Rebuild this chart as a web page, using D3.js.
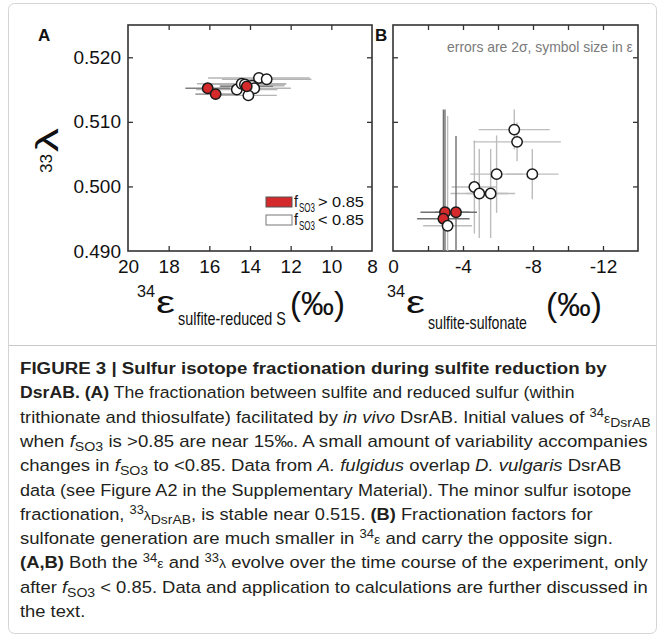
<!DOCTYPE html>
<html>
<head>
<meta charset="utf-8">
<script src="https://cdn.jsdelivr.net/npm/d3@7"></script>
<style>
  body { margin: 0; background: #fff; }
  svg { display: block; }
  text { font-family: "Liberation Sans", Arial, sans-serif; }
</style>
</head>
<body>
<div id="vis"></div>
<script>
var width = 665;
var height = 637;

// ---- data ----
// panel A: 34eps (sulfite - reduced S) vs 33lambda
const aRedEps = [16.08, 15.69, 14.16];
const aRedLam = [0.5152, 0.5143, 0.5155];
const aRedErrX = [1.1, 1.0, 1.3];
const aRedErrY = [0.0003, 0.0003, 0.0003];
const aWhiteEps = [14.65, 14.41, 14.25, 13.9, 13.79, 14.08, 13.56, 13.18];
const aWhiteLam = [0.5150, 0.5159, 0.5158, 0.5156, 0.5152, 0.5141, 0.5168, 0.5166];
const aWhiteErrX = [2.0, 2.2, 2.0, 1.6, 1.8, 1.4, 2.5, 2.2];
const aWhiteErrY = [0.0003, 0.0003, 0.0003, 0.0003, 0.0003, 0.0003, 0.0003, 0.0003];

// panel B: 34eps (sulfite - sulfonate) vs 33lambda
const bRedEps = [-2.97, -3.6, -2.88];
const bRedLam = [0.4960, 0.4960, 0.4950];
const bRedErrX = [1.4, 1.2, 1.5];
const bRedErrY = [0.0159, 0.0118, 0.0169];
const bWhiteEps = [-6.93, -7.09, -5.92, -7.96, -4.65, -4.93, -5.58, -3.12];
const bWhiteLam = [0.5088, 0.5069, 0.5019, 0.5019, 0.4999, 0.4989, 0.4989, 0.4939];
const bWhiteErrX = [2.03, 2.5, 1.5, 1.5, 1.3, 1.64, 1.4, 1.4];
const bWhiteErrY = [0.0031, 0.0030, 0.0060, 0.0039, 0.0072, 0.0069, 0.0069, 0.0170];

const xTicksA = [20, 18, 16, 14, 12, 10, 8];
const xMinorA = [18, 16, 14, 12, 10];
const xTicksB = [0, -4, -8, -12];
const xMinorB = [-2, -4, -6, -8, -10, -12];
const yTicks = [0.490, 0.500, 0.510, 0.520];
const yMinor = [0.500, 0.510, 0.520];

const RED = "#d42a2b";

var svg = d3.select("#vis").append("svg").attr("width", width).attr("height", height);

// page frame + separator
svg.append("rect").attr("x", 8.5).attr("y", 3.5).attr("width", 648).attr("height", 630)
  .attr("rx", 6).attr("fill", "none").attr("stroke", "#d4d4d4");
svg.append("line").attr("x1", 9).attr("x2", 656).attr("y1", 345.5).attr("y2", 345.5)
  .attr("stroke", "#c8c8c8");

var y = d3.scaleLinear().domain([0.490, 0.525]).range([251, 25]);
var xA = d3.scaleLinear().domain([20, 8]).range([128, 372]);
var xB = d3.scaleLinear().domain([0, -14]).range([393, 638]);

// text helper: squeezes to a given width with a transform, so boxes stay honest
function txt(g, x, yy, s, size, o) {
  o = o || {};
  var t = g.append("text").attr("x", 0).attr("y", 0).attr("font-size", size)
    .attr("fill", o.fill || "#111").text(s);
  if (o.weight) t.attr("font-weight", o.weight);
  var tr = "translate(" + x + "," + yy + ")";
  if (o.rotate) tr += " rotate(" + o.rotate + ")";
  if (o.width) {
    var w = t.node().getComputedTextLength();
    tr += " scale(" + (o.width / w) + ",1)";
  }
  t.attr("transform", tr);
  return t;
}

function panel(x, xLabels, xMinor, name) {
  var g = svg.append("g");
  var x0 = x.range()[0], x1 = x.range()[1];
  var clipId = "clip" + name;
  svg.append("clipPath").attr("id", clipId).append("rect")
    .attr("x", x0).attr("y", y.range()[1]).attr("width", x1 - x0).attr("height", y.range()[0] - y.range()[1]);

  // inward ticks on all four sides
  var tk = g.append("g").attr("class", "ticks");
  tk.append("g").attr("transform", "translate(0," + y.range()[0] + ")")
    .call(d3.axisBottom(x).tickValues(xMinor).tickSize(-5).tickFormat(""));
  tk.append("g").attr("transform", "translate(0," + y.range()[1] + ")")
    .call(d3.axisTop(x).tickValues(xMinor).tickSize(-5).tickFormat(""));
  tk.append("g").attr("transform", "translate(" + x0 + ",0)")
    .call(d3.axisLeft(y).tickValues(yMinor).tickSize(-5).tickFormat(""));
  tk.append("g").attr("transform", "translate(" + x1 + ",0)")
    .call(d3.axisRight(y).tickValues(yMinor).tickSize(-5).tickFormat(""));
  tk.selectAll(".domain").remove();
  tk.selectAll("text").remove();
  tk.selectAll("line").attr("stroke", "#333").attr("stroke-width", 1.3);

  // x tick labels
  var xl = g.append("g").attr("transform", "translate(0," + y.range()[0] + ")")
    .call(d3.axisBottom(x).tickValues(xLabels).tickSize(0).tickPadding(9).tickFormat(function (d) { return String(d); }));
  xl.select(".domain").remove();
  xl.selectAll("text").attr("font-size", 19).attr("fill", "#111").attr("font-family", null);

  // box
  g.append("rect").attr("x", x0).attr("y", y.range()[1]).attr("width", x1 - x0)
    .attr("height", y.range()[0] - y.range()[1]).attr("fill", "none")
    .attr("stroke", "#333").attr("stroke-width", 1.6);

  return { g: g, clip: "url(#" + clipId + ")" };
}

function points(p, x, xs, ys, ex, ey, errColor) {
  var data = xs.map(function (v, i) { return { x: v, y: ys[i], ex: ex[i], ey: ey[i] }; });
  var eg = p.g.append("g").attr("clip-path", p.clip);
  eg.selectAll(".eh").data(data).enter().append("line")
    .attr("x1", function (d) { return x(d.x - d.ex); })
    .attr("x2", function (d) { return x(d.x + d.ex); })
    .attr("y1", function (d) { return y(d.y); })
    .attr("y2", function (d) { return y(d.y); })
    .attr("stroke", errColor).attr("stroke-width", 1.4);
  eg.selectAll(".ev").data(data).enter().append("line")
    .attr("x1", function (d) { return x(d.x); })
    .attr("x2", function (d) { return x(d.x); })
    .attr("y1", function (d) { return y(d.y - d.ey); })
    .attr("y2", function (d) { return y(d.y + d.ey); })
    .attr("stroke", errColor).attr("stroke-width", 1.4);
  return data;
}

function dots(p, x, data, fill) {
  p.g.append("g").selectAll("circle").data(data).enter().append("circle")
    .attr("cx", function (d) { return x(d.x); })
    .attr("cy", function (d) { return y(d.y); })
    .attr("r", 5.2)
    .attr("fill", fill).attr("stroke", "#1a1a1a").attr("stroke-width", 1.5);
}

// ---- panel A ----
var pA = panel(xA, xTicksA, xMinorA, "A");
var aW = points(pA, xA, aWhiteEps, aWhiteLam, aWhiteErrX, aWhiteErrY, "#b5b5b5");
var aR = points(pA, xA, aRedEps, aRedLam, aRedErrX, aRedErrY, "#808080");
dots(pA, xA, aW, "#fff");
dots(pA, xA, aR, RED);

// y tick labels (panel A only)
var yl = svg.append("g").attr("transform", "translate(128,0)")
  .call(d3.axisLeft(y).tickValues(yTicks).tickSize(0).tickPadding(7).tickFormat(d3.format(".3f")));
yl.select(".domain").remove();
yl.selectAll("text").attr("font-size", 19).attr("fill", "#111").attr("font-family", null);

// ---- panel B ----
var pB = panel(xB, xTicksB, xMinorB, "B");
var bW = points(pB, xB, bWhiteEps, bWhiteLam, bWhiteErrX, bWhiteErrY, "#bdbdbd");
var bR = points(pB, xB, bRedEps, bRedLam, bRedErrX, bRedErrY, "#707070");
dots(pB, xB, bR, RED);
dots(pB, xB, bW, "#fff");

// panel letters
txt(svg, 38, 41, "A", 17, { weight: "bold" });
txt(svg, 375, 41, "B", 17, { weight: "bold" });

// annotation
txt(svg, 447, 52, "errors are 2\u03c3, symbol size in \u03b5", 14, { fill: "#7a7a7a", width: 186 });

// legend
svg.append("rect").attr("x", 266).attr("y", 197).attr("width", 26).attr("height", 10)
  .attr("fill", RED).attr("stroke", "#555").attr("stroke-width", 1);
svg.append("rect").attr("x", 266).attr("y", 215).attr("width", 26).attr("height", 10)
  .attr("fill", "#fff").attr("stroke", "#777").attr("stroke-width", 1);
[["> 0.85", 207], ["< 0.85", 225]].forEach(function (r) {
  txt(svg, 294, r[1], "f", 16, { width: 4 });
  txt(svg, 299, r[1] + 5, "SO3", 12, { width: 16 });
  txt(svg, 318, r[1], r[0], 15, { width: 46 });
});

// y axis title  33-lambda
txt(svg, 52, 173, "33", 17, { rotate: -90, width: 19 });
txt(svg, 58, 152, "\u03bb", 32, { rotate: -90, width: 24 });

// x axis titles
txt(svg, 137, 297, "34", 17, { width: 18 });
txt(svg, 156, 313, "\u03b5", 32, { width: 19 });
txt(svg, 178, 325, "sulfite-reduced S", 18, { width: 108 });
txt(svg, 290, 315, "(\u2030)", 34, { width: 55 });

txt(svg, 387, 297, "34", 17, { width: 18 });
txt(svg, 406, 313, "\u03b5", 32, { width: 19 });
txt(svg, 428, 329, "sulfite-sulfonate", 18, { width: 99 });
txt(svg, 546, 316, "(\u2030)", 34, { width: 56 });

// ---- caption ----
const captionLines = [
  [["b", "FIGURE 3 | Sulfur isotope fractionation during sulfite reduction by"]],
  [["b", "DsrAB. (A)"], ["n", " The fractionation between sulfite and reduced sulfur (within"]],
  [["n", "trithionate and thiosulfate) facilitated by "], ["i", "in vivo"], ["n", " DsrAB. Initial values of "], ["sup", "34"], ["sm", "\u03b5"], ["sub", "DsrAB"]],
  [["n", "when "], ["i", "f"], ["sub", "SO3"], ["n", " is >0.85 are near 15\u2030. A small amount of variability accompanies"]],
  [["n", "changes in "], ["i", "f"], ["sub", "SO3"], ["n", " to <0.85. Data from "], ["i", "A. fulgidus"], ["n", " overlap "], ["i", "D. vulgaris"], ["n", " DsrAB"]],
  [["n", "data (see Figure A2 in the Supplementary Material). The minor sulfur isotope"]],
  [["n", "fractionation, "], ["sup", "33"], ["sm", "\u03bb"], ["sub", "DsrAB"], ["n", ", is stable near 0.515. "], ["b", "(B)"], ["n", " Fractionation factors for"]],
  [["n", "sulfonate generation are much smaller in "], ["sup", "34"], ["sm", "\u03b5"], ["n", " and carry the opposite sign."]],
  [["b", "(A,B)"], ["n", " Both the "], ["sup", "34"], ["sm", "\u03b5"], ["n", " and "], ["sup", "33"], ["sm", "\u03bb"], ["n", " evolve over the time course of the experiment, only"]],
  [["n", "after "], ["i", "f"], ["sub", "SO3"], ["n", " < 0.85. Data and application to calculations are further discussed in"]],
  [["n", "the text."]]
];
const captionEnds = [607, 575, 651, 648, 622, 632, 593, 613, 648, 648, 0];

var cap = svg.append("g");
var scales = [];
captionLines.forEach(function (line, i) {
  var t = cap.append("text").attr("x", 0).attr("y", 0).attr("font-size", 17).attr("fill", "#231f20");
  var off = 0;
  line.forEach(function (seg) {
    var kind = seg[0], target = 0, size = 17;
    if (kind === "sup") { target = -6; size = 12; }
    if (kind === "sub") { target = 4; size = 13; }
    if (kind === "sm") { size = 13; }
    var ts = t.append("tspan").attr("dy", target - off).attr("font-size", size).text(seg[1]);
    off = target;
    if (kind === "b") ts.attr("font-weight", "bold");
    if (kind === "i") ts.attr("font-style", "italic");
  });
  var w = t.node().getComputedTextLength();
  var s = captionEnds[i] ? (captionEnds[i] - 20) / w : null;
  if (s) scales.push(s);
  t.attr("data-s", s);
  t.attr("data-y", 374 + 24.3 * i);
});
var meanS = d3.mean(scales);
cap.selectAll("text").each(function () {
  var t = d3.select(this);
  var s = +t.attr("data-s") || meanS;
  t.attr("transform", "translate(20," + t.attr("data-y") + ") scale(" + s + ",1)");
});
</script>
</body>
</html>
